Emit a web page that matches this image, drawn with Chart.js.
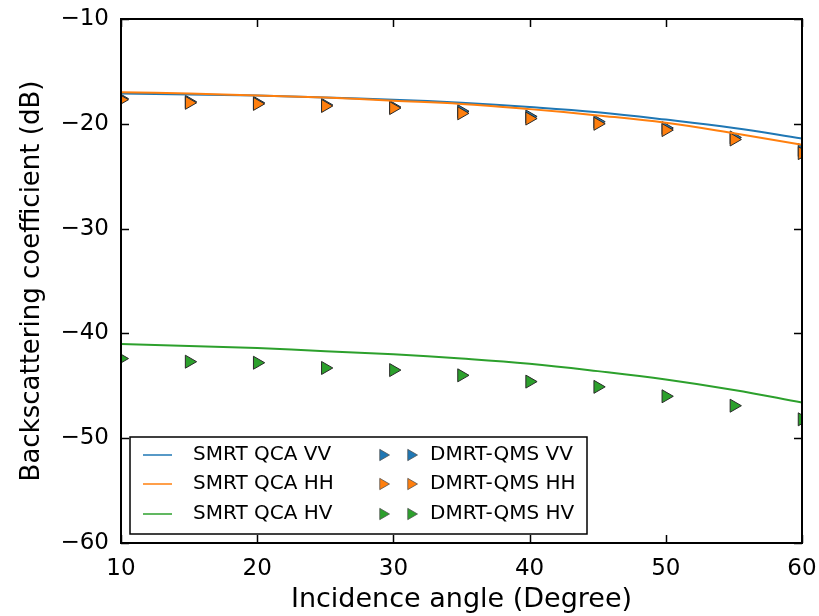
<!DOCTYPE html>
<html>
<head>
<meta charset="utf-8">
<script src="https://cdn.jsdelivr.net/npm/chart.js@4.4.1/dist/chart.umd.min.js"></script>
<style>
  html, body { margin: 0; padding: 0; background: #fff; }
  #wrap { width: 819px; height: 616px; }
</style>
</head>
<body>
<div id="wrap"><canvas id="c" width="819" height="616"></canvas></div>
<script>
// ---- data ----
const lineAngles = [10, 15, 20, 25, 30, 35, 40, 45, 50, 55, 60];
const smrtVV = [-17.1, -17.2, -17.3, -17.5, -17.7, -18.0, -18.4, -18.9, -19.6, -20.4, -21.4];
const smrtHH = [-17.0, -17.1, -17.3, -17.5, -17.8, -18.1, -18.6, -19.2, -19.9, -20.9, -22.0];
const smrtHV = [-41.0, -41.2, -41.4, -41.7, -42.0, -42.4, -42.9, -43.6, -44.4, -45.4, -46.6];

const markerAngles = [10, 15, 20, 25, 30, 35, 40, 45, 50, 55, 60];
const dmrtVV = [-17.6, -17.9, -18.0, -18.2, -18.4, -18.8, -19.3, -19.8, -20.4, -21.3, -22.5];
const dmrtHH = [-17.7, -18.0, -18.1, -18.3, -18.5, -19.0, -19.5, -20.0, -20.6, -21.5, -22.8];
const dmrtHV = [-42.4, -42.7, -42.8, -43.3, -43.5, -44.0, -44.6, -45.1, -46.0, -46.9, -48.2];

const xTicks = [10, 20, 30, 40, 50, 60];
const yTicks = [-60, -50, -40, -30, -20, -10];

const seriesLabels = ['SMRT QCA VV', 'SMRT QCA HH', 'SMRT QCA HV', 'DMRT-QMS VV', 'DMRT-QMS HH', 'DMRT-QMS HV'];
const colors = ['#1f77b4', '#ff7f0e', '#2ca02c'];

const FONT = "'DejaVu Sans', sans-serif";

function pts(xs, ys) { return xs.map((x, i) => ({ x: x, y: ys[i] })); }

function lineDs(label, data, color, order) {
  return { label, data: pts(lineAngles, data), borderColor: color, backgroundColor: color, order,
    borderWidth: 2, pointRadius: 0, showLine: true, tension: 0.4, clip: 0 };
}
function markDs(label, data, color, order) {
  return { label, data: pts(markerAngles, data), borderColor: '#2a2a2a', backgroundColor: color, order,
    borderWidth: 1, pointRadius: 7.5, pointStyle: 'triangle', rotation: 90, showLine: false, clip: 0 };
}

const datasets = [
  lineDs(seriesLabels[0], smrtVV, colors[0], 3),
  lineDs(seriesLabels[1], smrtHH, colors[1], 2),
  lineDs(seriesLabels[2], smrtHV, colors[2], 1),
  markDs(seriesLabels[3], dmrtVV, colors[0], 6),
  markDs(seriesLabels[4], dmrtHH, colors[1], 5),
  markDs(seriesLabels[5], dmrtHV, colors[2], 4)
];

const framePlugin = {
  id: 'frame',
  afterDatasetsDraw(chart) {
    const { ctx, chartArea: a, scales } = chart;
    ctx.save();
    ctx.strokeStyle = '#000';
    ctx.lineWidth = 1.5;
    ctx.beginPath();
    const L = 8;
    xTicks.forEach(v => {
      const px = Math.round(scales.x.getPixelForValue(v)) + 0.5;
      ctx.moveTo(px, a.bottom); ctx.lineTo(px, a.bottom - L);
      ctx.moveTo(px, a.top); ctx.lineTo(px, a.top + L);
    });
    yTicks.forEach(v => {
      const py = Math.round(scales.y.getPixelForValue(v)) + 0.5;
      ctx.moveTo(a.left, py); ctx.lineTo(a.left + L, py);
      ctx.moveTo(a.right, py); ctx.lineTo(a.right - L, py);
    });
    ctx.stroke();
    ctx.lineWidth = 2;
    ctx.strokeRect(a.left, a.top, a.right - a.left, a.bottom - a.top);
    ctx.restore();
  }
};

function tri(ctx, x, y, r, fill) {
  ctx.beginPath();
  ctx.moveTo(x + r, y);
  ctx.lineTo(x - r / 2, y - r * Math.sqrt(3) / 2);
  ctx.lineTo(x - r / 2, y + r * Math.sqrt(3) / 2);
  ctx.closePath();
  ctx.fillStyle = fill; ctx.fill();
  ctx.lineWidth = 0.8; ctx.strokeStyle = '#555'; ctx.stroke();
}

const legendPlugin = {
  id: 'customLegend',
  afterDraw(chart) {
    const { ctx } = chart;
    const ds = chart.data.datasets;
    const bx = 130, by = 437, bw = 457, bh = 97;
    ctx.save();
    ctx.fillStyle = '#fff';
    ctx.fillRect(bx, by, bw, bh);
    ctx.strokeStyle = '#000'; ctx.lineWidth = 1.5;
    ctx.strokeRect(bx, by, bw, bh);
    ctx.font = '20px ' + FONT;
    ctx.textBaseline = 'middle';
    const rows = [455, 484, 514];
    for (let i = 0; i < 3; i++) {
      const y = rows[i];
      ctx.strokeStyle = ds[i].borderColor; ctx.lineWidth = 1.5;
      ctx.beginPath(); ctx.moveTo(143, y); ctx.lineTo(172, y); ctx.stroke();
      ctx.fillStyle = '#000';
      ctx.fillText(ds[i].label, 193, y);
      const m = ds[i + 3];
      tri(ctx, 383, y, 6.5, m.backgroundColor);
      tri(ctx, 411, y, 6.5, m.backgroundColor);
      ctx.fillStyle = '#000';
      ctx.fillText(m.label, 430, y);
    }
    ctx.restore();
  }
};

const minus = v => String(v).replace('-', '\u2212');

new Chart(document.getElementById('c'), {
  type: 'scatter',
  data: { datasets },
  options: {
    responsive: false,
    animation: false,
    devicePixelRatio: 1,
    layout: { padding: { top: 19, right: 17, left: 0, bottom: 0 } },
    plugins: { legend: { display: false }, tooltip: { enabled: false } },
    scales: {
      x: {
        type: 'linear', min: 10, max: 60,
        afterBuildTicks: s => { s.ticks = xTicks.map(v => ({ value: v })); },
        afterFit: s => { s.height = 73; s.paddingLeft = 0; s.paddingRight = 0; },
        grid: { display: false, drawTicks: false },
        border: { display: false },
        ticks: { font: { family: FONT, size: 23 }, color: '#000', padding: 12, maxRotation: 0, callback: v => minus(v) },
        title: { display: true, text: 'Incidence angle (Degree)', font: { family: FONT, size: 27 }, color: '#000', padding: { top: 0, bottom: 0 } }
      },
      y: {
        type: 'linear', min: -60, max: -10,
        afterBuildTicks: s => { s.ticks = yTicks.map(v => ({ value: v })); },
        afterFit: s => { s.width = 121; s.paddingTop = 0; s.paddingBottom = 0; },
        grid: { display: false, drawTicks: false },
        border: { display: false },
        ticks: { font: { family: FONT, size: 23 }, color: '#000', padding: 12, callback: v => minus(v) },
        title: { display: true, text: 'Backscattering coefficient (dB)', font: { family: FONT, size: 26 }, color: '#000', padding: { top: 17, bottom: 0 } }
      }
    }
  },
  plugins: [framePlugin, legendPlugin]
});
</script>
</body>
</html>
